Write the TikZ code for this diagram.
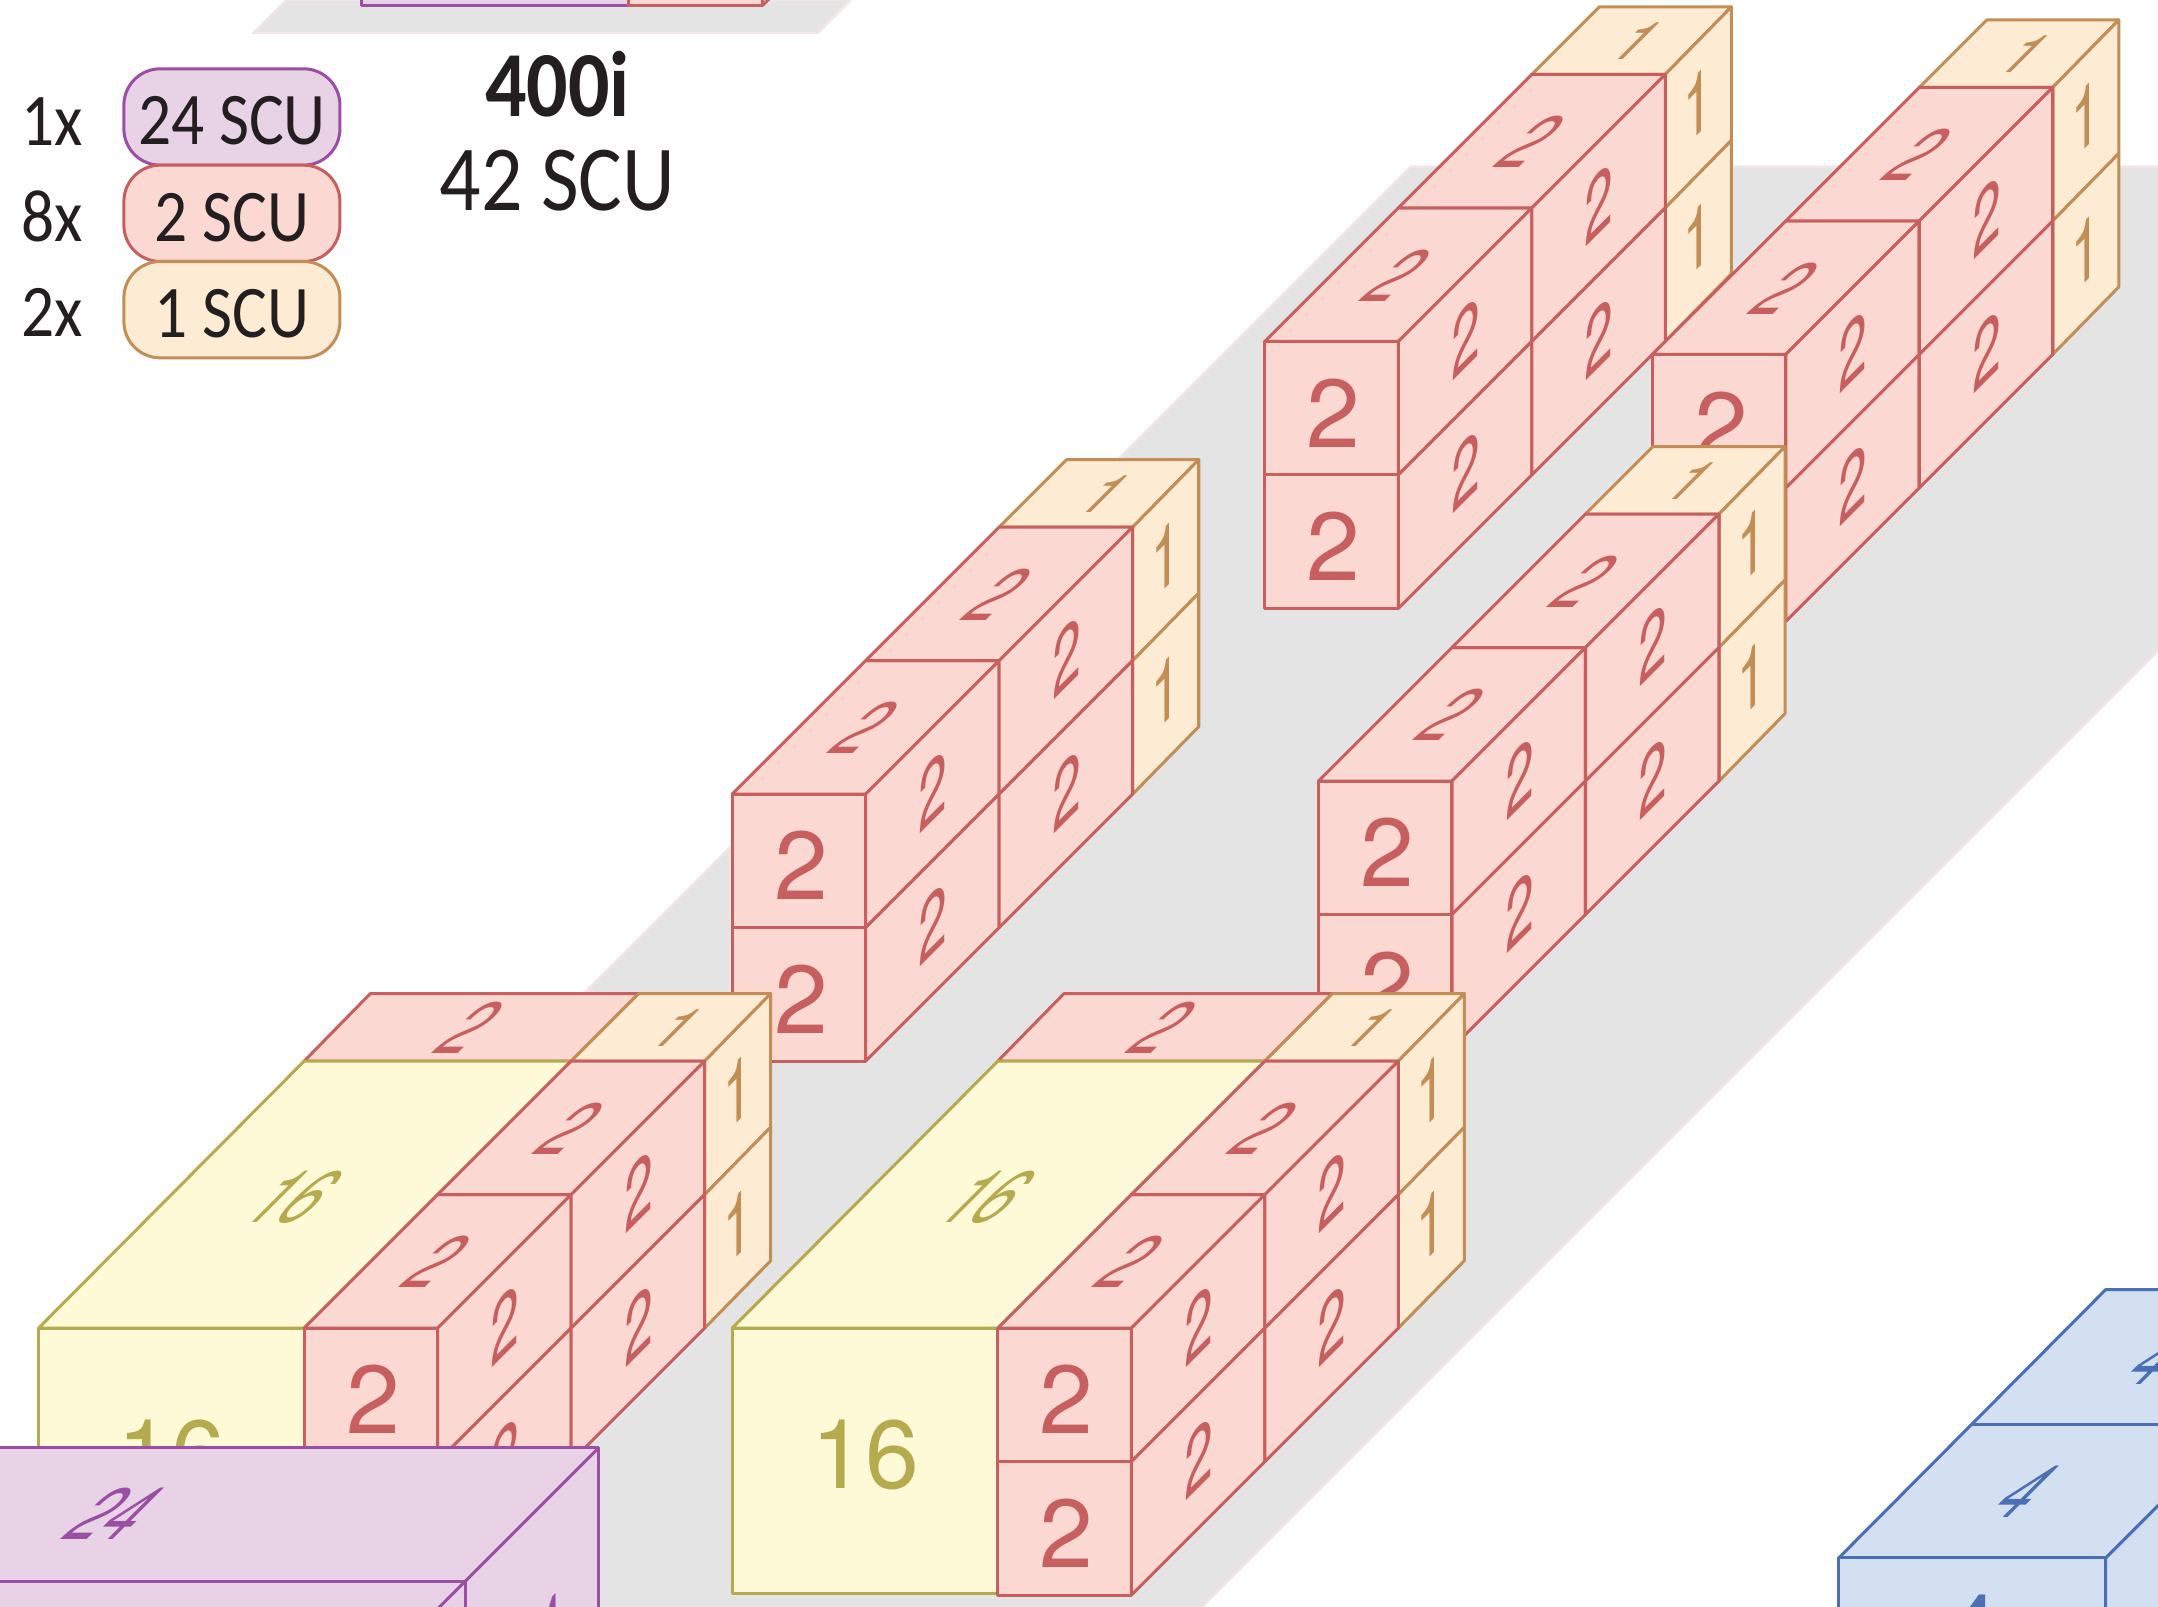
\documentclass[tikz,border=0pt]{standalone}
\usepackage{fontspec}
\usepackage{tikz}
\setmainfont{TeX Gyre Heros}
\newfontfamily\legendfont{Carlito}[FakeStretch=0.88]

\definecolor{floorfill}{HTML}{E4E4E4}
\definecolor{floorline}{HTML}{F4E6E6}
\definecolor{redfill}{HTML}{FBD8D1}
\definecolor{redline}{HTML}{C85F5F}
\definecolor{orangefill}{HTML}{FDEBD3}
\definecolor{orangeline}{HTML}{C28E55}
\definecolor{yellowfill}{HTML}{FEF9D6}
\definecolor{yellowline}{HTML}{B5AA4E}
\definecolor{purplefill}{HTML}{E8D2E6}
\definecolor{purpleline}{HTML}{9A4FA5}
\definecolor{bluefill}{HTML}{D3E0F1}
\definecolor{blueline}{HTML}{4A6FB5}
\definecolor{inktext}{HTML}{231F20}

% Eight red cells and two orange cells, origin at the top left of the front
\newcommand{\redstack}[1]{%
    % Orange cells at the back
    \draw[orangeface] (194,-194) -- (291,-194) -- (339,-243) -- (243,-243) -- cycle;
    \draw[orangeface] (291,-194) -- (339,-243) -- (339,-146) -- (291,-97) -- cycle;
    \draw[orangeface] (291,-97) -- (339,-146) -- (339,-49) -- (291,0) -- cycle;
    \node[halfnum, text=orangeline] (#1t3) at (271,-218) {1};
    \node[sidenum, text=orangeline] (#1o1) at (315,-172) {1};
    \node[sidenum, text=orangeline] (#1o2) at (315,-75) {1};
    % Red cells
    \draw[redface] (0,0) rectangle (97,97);
    \draw[redface] (0,97) rectangle (97,194);
    \draw[redface] (0,0) -- (97,0) -- (194,-97) -- (97,-97) -- cycle;
    \draw[redface] (97,-97) -- (194,-97) -- (291,-194) -- (194,-194) -- cycle;
    \draw[redface] (97,0) -- (194,-97) -- (194,0) -- (97,97) -- cycle;
    \draw[redface] (97,97) -- (194,0) -- (194,97) -- (97,194) -- cycle;
    \draw[redface] (194,-97) -- (291,-194) -- (291,-97) -- (194,0) -- cycle;
    \draw[redface] (194,0) -- (291,-97) -- (291,0) -- (194,97) -- cycle;
    \node[frontnum, text=redline] (#1f1) at (50,52) {2};
    \node[frontnum, text=redline] (#1f2) at (50,149) {2};
    \node[topnum, text=redline] (#1t1) at (97,-48) {2};
    \node[topnum, text=redline] (#1t2) at (194,-145) {2};
    \node[sidenum, text=redline] (#1s1) at (146,-3) {2};
    \node[sidenum, text=redline] (#1s2) at (146,94) {2};
    \node[sidenum, text=redline] (#1s3) at (243,-100) {2};
    \node[sidenum, text=redline] (#1s4) at (243,-3) {2};
}

% The 16 block and the red cell behind it, same origin as the stack
\newcommand{\yellowblock}[1]{%
    \draw[redface] (0,-194) -- (194,-194) -- (243,-243) -- (48,-243) -- cycle;
    \node[topnum, text=redline] (#1b) at (121,-218) {2};
    \draw[yellowface] (-193,0) rectangle (0,193);
    \draw[yellowface] (-193,0) -- (0,0) -- (194,-194) -- (0,-194) -- cycle;
    \node[frontnum, text=yellowline] (#1y1) at (-96.5,92) {16};
    \node[topnum, text=yellowline] (#1y2) at (-7,-95) {16};
}

\begin{document}
\begin{tikzpicture}[
        x=0.02cm,
        y=-0.02cm,
        line join=round,
        redface/.style={draw=redline, fill=redfill, line width=1.25pt},
        orangeface/.style={draw=orangeline, fill=orangefill, line width=1.25pt},
        yellowface/.style={draw=yellowline, fill=yellowfill, line width=1.25pt},
        purpleface/.style={draw=purpleline, fill=purplefill, line width=1.25pt},
        blueface/.style={draw=blueline, fill=bluefill, line width=1.25pt},
        floorface/.style={draw=floorline, fill=floorfill, line width=1pt},
        frontnum/.style={font=\fontsize{40}{40}\selectfont, inner sep=0pt},
        topnum/.style={font=\fontsize{39}{39}\selectfont, inner sep=0pt, cm={.6,0,.77,.77,(0,0)}},
        halfnum/.style={font=\fontsize{39}{39}\selectfont, inner sep=0pt, cm={.6,0,.55,.55,(0,0)}},
        sidenum/.style={font=\fontsize{39}{39}\selectfont, inner sep=0pt, cm={.55,.55,0,.92,(0,0)}},
        legendbox/.style={rounded corners=15pt, minimum width=3.14cm, minimum height=1.4cm,
            line width=1.25pt, inner sep=0pt, text=inktext, text height=23pt, text depth=0pt,
            font=\legendfont\fontsize{30.7}{30.7}\selectfont},
        legendcount/.style={text=inktext, inner sep=0pt, font=\legendfont\fontsize{30.7}{30.7}\selectfont},
        titletext/.style={text=inktext, inner sep=0pt, font=\legendfont\fontsize{38.5}{38.5}\selectfont}
    ]
    \path[use as bounding box, clip] (0,0) rectangle (1568,1167.6);

    % --- Floors ---
    \draw[floorface] (184,24) -- (594,24) -- (618,0) -- (208,0) -- cycle;
    \draw[floorface] (1025,121) -- (1590,121) -- (1590,451) -- (873,1168) -- (0,1168) -- (0,1146) -- cycle;

    % --- Block cut off at the top ---
    \draw[purpleface] (263,-5) rectangle (457,4);
    \draw[redface] (457,-5) rectangle (554,4);
    \draw[redline, line width=1.25pt] (554,4) -- (560,-2);

    % --- Legend ---
    \node[legendbox, draw=purpleline, fill=purplefill] (box24) at (168.5,85) {24 SCU};
    \node[legendbox, draw=redline, fill=redfill] (box2) at (168.5,155) {2 SCU};
    \node[legendbox, draw=orangeline, fill=orangefill] (box1) at (168.5,225) {1 SCU};
    \node[legendcount] (count24) at (38,88) {1x};
    \node[legendcount] (count2) at (38,157) {8x};
    \node[legendcount] (count1) at (38,227) {2x};
    \node[titletext] (name) at (405,61) {\bfseries 400i};
    \node[titletext] (total) at (405,131) {42 SCU};

    % --- Stacks without a block ---
    \foreach \sx/\sy/\sn in {919/248/sa, 1200.5/257.5/sb, 958/567.5/sc, 532/577/sd} {
        \begin{scope}[shift={(\sx,\sy)}]
            \redstack{\sn}
        \end{scope}
    }

    % --- Stacks with a block ---
    \foreach \sx/\sy/\sn in {221/965/se, 725/965/sf} {
        \begin{scope}[shift={(\sx,\sy)}]
            \yellowblock{\sn}
            \redstack{\sn}
        \end{scope}
    }

    % --- Purple block in front ---
    \fill[purplefill] (-5,1052) rectangle (435,1175);
    \draw[purpleface] (-5,1052) -- (435,1052) -- (435,1175);
    \draw[purpleface] (-5,1149) -- (338,1149) -- (338,1175);
    \draw[purpleface] (435,1052) -- (319,1168);
    \node[topnum, text=purpleline] (bigtop) at (84,1100) {24};
    \node[sidenum, text=purpleline] (bigside) at (388,1196) {24};

    % --- Blue block on the right ---
    \draw[blueface] (1336,1132) -- (1530,1132) -- (1627,1035) -- (1627,937) -- (1530,937) -- cycle;
    \draw[blueface] (1433,1035) -- (1627,1035);
    \draw[blueface] (1530,1132) -- (1627,1035) -- (1627,1175) -- (1530,1175) -- cycle;
    \draw[blueface] (1336,1132) rectangle (1530,1175);
    \node[topnum, text=blueline] (bluetop1) at (1472,1084) {4};
    \node[topnum, text=blueline] (bluetop2) at (1569,987) {4};
    \node[frontnum, text=blueline] (bluefront) at (1433,1184) {4};
\end{tikzpicture}
\end{document}
